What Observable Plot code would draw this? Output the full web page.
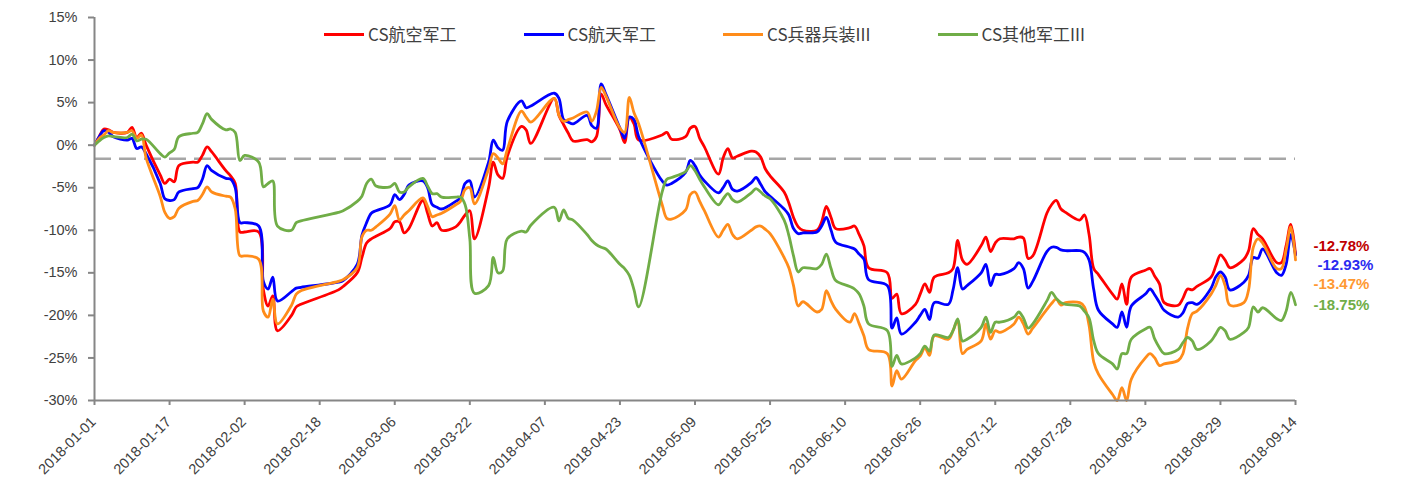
<!DOCTYPE html>
<html>
<head>
<meta charset="utf-8">
<script src="https://cdn.jsdelivr.net/npm/d3@7"></script>
<script src="https://cdn.jsdelivr.net/npm/@observablehq/plot@0.6"></script>
<style>
  html, body { margin: 0; padding: 0; background: #fff; }
  #wrap { position: relative; width: 1411px; height: 489px; }
  #legend { position: absolute; left: 324px; top: 22px; display: flex; gap: 67px;
            font-family: "Noto Sans CJK SC", "Noto Sans", sans-serif; font-size: 17px; color: #404040; line-height: 24px; }
  .item { display: flex; align-items: center; gap: 4px; white-space: nowrap; }
  .swatch { width: 40px; height: 3px; }
</style>
</head>
<body>
<div id="wrap"><div id="legend"></div></div>
<script>
// ---------------- data ----------------
const seriesNames = ["CS航空军工", "CS航天军工", "CS兵器兵装III", "CS其他军工III"];

const dates = [
  // Jan
  "2018-01-01","2018-01-02","2018-01-03","2018-01-04","2018-01-05","2018-01-08","2018-01-09","2018-01-10","2018-01-11","2018-01-12",
  "2018-01-15","2018-01-16","2018-01-17","2018-01-18","2018-01-19","2018-01-22","2018-01-23","2018-01-24","2018-01-25","2018-01-26",
  "2018-01-29","2018-01-30","2018-01-31",
  // Feb
  "2018-02-01","2018-02-02","2018-02-05","2018-02-06","2018-02-07","2018-02-08","2018-02-09","2018-02-12","2018-02-13","2018-02-14",
  "2018-02-22","2018-02-23","2018-02-26","2018-02-27","2018-02-28",
  // Mar
  "2018-03-01","2018-03-02","2018-03-05","2018-03-06","2018-03-07","2018-03-08","2018-03-09","2018-03-12","2018-03-13","2018-03-14",
  "2018-03-15","2018-03-16","2018-03-19","2018-03-20","2018-03-21","2018-03-22","2018-03-23","2018-03-26","2018-03-27","2018-03-28",
  "2018-03-29","2018-03-30",
  // Apr
  "2018-04-02","2018-04-03","2018-04-04","2018-04-09","2018-04-10","2018-04-11","2018-04-12","2018-04-13","2018-04-16","2018-04-17",
  "2018-04-18","2018-04-19","2018-04-20","2018-04-23","2018-04-24","2018-04-25","2018-04-26","2018-04-27",
  // May
  "2018-05-02","2018-05-03","2018-05-04","2018-05-07","2018-05-08","2018-05-09","2018-05-10","2018-05-11","2018-05-14","2018-05-15",
  "2018-05-16","2018-05-17","2018-05-18","2018-05-21","2018-05-22","2018-05-23","2018-05-24","2018-05-25","2018-05-28","2018-05-29",
  "2018-05-30","2018-05-31",
  // Jun
  "2018-06-01","2018-06-04","2018-06-05","2018-06-06","2018-06-07","2018-06-08","2018-06-11","2018-06-12","2018-06-13","2018-06-14",
  "2018-06-15","2018-06-19","2018-06-20","2018-06-21","2018-06-22","2018-06-25","2018-06-26","2018-06-27","2018-06-28","2018-06-29",
  // Jul
  "2018-07-02","2018-07-03","2018-07-04","2018-07-05","2018-07-06","2018-07-09","2018-07-10","2018-07-11","2018-07-12","2018-07-13",
  "2018-07-16","2018-07-17","2018-07-18","2018-07-19","2018-07-20","2018-07-23","2018-07-24","2018-07-25","2018-07-26","2018-07-27",
  "2018-07-30","2018-07-31",
  // Aug
  "2018-08-01","2018-08-02","2018-08-03","2018-08-06","2018-08-07","2018-08-08","2018-08-09","2018-08-10","2018-08-13","2018-08-14",
  "2018-08-15","2018-08-16","2018-08-17","2018-08-20","2018-08-21","2018-08-22","2018-08-23","2018-08-24","2018-08-27","2018-08-28",
  "2018-08-29","2018-08-30","2018-08-31",
  // Sep
  "2018-09-03","2018-09-04","2018-09-05","2018-09-06","2018-09-07","2018-09-10","2018-09-11","2018-09-12","2018-09-13","2018-09-14"
];

// CS航空军工 (%)
const aviation = [
  0, 1.0, 1.9, 1.8, 1.5, 1.5, 2.1, 0.9, 1.4, 0.0, -3.5, -4.5, -4.0, -4.3, -2.4, -2.0, -2.0, -1.2, -0.2, -0.8, -3.0, -3.6, -4.5,
  -10.2, -10.2, -10.2, -17.0, -18.9, -17.7, -21.8, -20.0, -19.0, -18.7, -17.0, -16.6, -15.0, -13.2, -11.5,
  -11.0, -10.7, -9.8, -9.0, -9.0, -10.3, -9.8, -6.5, -8.0, -9.5, -9.1, -10.0, -9.6, -9.0, -8.2, -7.7, -11.0, -5.0, -2.0, -3.5, -3.9, -1.3,
  2.2, 1.8, 0.2, 5.5, 3.5, 2.4, 1.4, 0.5, 0.65, 0.4, 1.0, 6.0, 4.8, 1.8, 0.3, 3.3, 2.5, 0.6,
  1.2, 1.5, 0.7, 1.0, 2.0, 2.2, 0.8, -0.2, -3.4, -1.5, -0.4, -1.5, -1.3, -0.7, -0.8, -1.4, -2.8, -3.6, -5.5, -6.8, -8.5, -9.6,
  -10.0, -10.0, -9.0, -7.2, -8.5, -9.8, -9.7, -9.5, -10.5, -11.8, -14.4, -15.0, -18.0, -17.5, -19.8, -18.7, -17.5, -16.3, -17.3, -15.5,
  -15.0, -14.5, -11.2, -13.5, -14.0, -11.8, -10.8, -12.5, -11.5, -11.0, -11.0, -10.8, -10.9, -13.3, -13.0, -8.0, -7.0, -6.5, -7.5, -7.9, -8.8, -8.2,
  -10.5, -14.5, -15.2, -17.5, -18.1, -16.3, -18.7, -15.5, -14.7, -14.5, -15.4, -16.3, -18.5, -18.8, -18.0, -16.9, -17.0, -16.6, -15.5, -14.2, -12.9, -13.5, -14.4,
  -13.4, -12.4, -9.8, -10.5, -11.0, -13.8, -13.8, -11.8, -9.3, -12.78
];

// CS航天军工 (%)
const aerospace = [
  0, 1.0, 1.7, 1.5, 1.0, 0.6, 0.8, -0.4, -0.2, -1.0, -4.5, -6.3, -6.5, -6.4, -5.5, -5.1, -5.0, -4.0, -2.4, -3.0, -3.9, -4.0, -5.0,
  -9.1, -9.1, -9.5, -16.0, -16.9, -15.5, -18.3, -17.2, -16.8, -16.7, -16.1, -15.9, -14.0, -10.6, -9.1,
  -8.0, -7.7, -7.0, -5.8, -6.4, -5.8, -4.7, -4.2, -5.0, -7.0, -7.3, -7.5, -6.6, -6.2, -4.5, -4.2, -6.1, -2.0, 0.6, -0.3, -0.6, 2.8,
  5.2, 4.4, 4.6, 6.1, 5.5, 3.0, 2.7, 2.5, 3.5, 2.3, 2.0, 7.2, 6.0, 2.0, 0.8, 3.3, 3.0, 1.0,
  -4.2, -4.7, -4.5, -3.2, -1.8, -2.4, -3.5, -4.2, -5.6, -5.0, -4.2, -5.2, -5.4, -4.4, -3.8, -4.6, -5.5, -6.0, -7.5, -8.2, -9.8, -10.4,
  -10.3, -10.2, -9.5, -8.5, -10.0, -11.4, -12.0, -12.2, -12.8, -13.4, -15.8, -16.5, -21.5, -20.3, -22.2, -20.8, -20.0, -19.3, -20.5, -18.5,
  -18.7, -17.0, -14.4, -16.9, -16.5, -15.0, -14.0, -16.5, -15.2, -15.2, -14.5, -13.8, -14.5, -16.8, -16.0, -12.5, -12.0, -12.0, -12.3, -12.4, -12.4, -12.6,
  -13.5, -17.0, -19.4, -21.0, -21.4, -19.6, -21.4, -18.9, -17.5, -16.9, -17.6, -18.5, -19.4, -20.2, -19.7, -18.6, -18.5, -18.7, -16.8, -15.5, -14.9, -15.5, -17.0,
  -16.1, -15.3, -13.2, -13.3, -12.2, -15.0, -15.3, -14.0, -10.5, -12.93
];

// CS兵器兵装III (%)
const ordnance = [
  0, 0.8, 1.2, 1.7, 1.5, 1.5, 1.7, 0.8, 1.2, -1.5, -6.0, -7.9, -8.6, -8.4, -7.4, -6.6, -6.5, -5.8, -4.9, -5.5, -6.0, -6.1, -7.5,
  -13.0, -13.0, -13.4, -19.5, -20.2, -18.1, -21.0, -18.8, -17.5, -17.1, -16.0, -15.8, -14.4, -10.8, -10.0,
  -10.0, -9.6, -8.1, -7.1, -8.8, -8.2, -7.7, -6.2, -7.2, -8.4, -8.2, -8.0, -7.0, -6.6, -5.2, -5.0, -6.9, -2.8, -1.0, -1.5, -2.2, -0.5,
  4.0, 3.3, 2.7, 5.5, 3.5, 2.8, 3.0, 3.2, 3.9, 2.8, 4.0, 6.8, 5.8, 2.0, 1.5, 5.6, 3.8, 2.5,
  -7.0, -8.6, -8.7, -7.6, -5.8, -5.5, -6.6, -7.7, -10.8, -10.0, -9.3, -10.5, -11.0, -10.0, -9.6, -9.5, -9.9, -10.4, -13.2, -14.4, -16.5, -18.9,
  -18.4, -19.6, -19.3, -17.1, -18.3, -19.3, -20.8, -19.8, -21.0, -22.4, -24.0, -24.5, -28.3, -26.5, -27.5, -25.3, -24.8, -23.8, -24.7, -22.4,
  -22.8, -21.8, -20.6, -24.5, -24.0, -23.0, -21.0, -22.8, -21.8, -22.0, -21.0, -20.2, -21.0, -22.2, -21.5, -19.3, -18.6, -18.1, -18.8, -18.5, -18.5, -19.0,
  -21.2, -25.5, -26.9, -29.3, -30.0, -28.5, -30.0, -27.5, -25.0, -24.5, -25.0, -25.9, -25.7, -25.3, -24.5, -21.5, -19.8, -19.5, -17.5, -16.5, -15.3, -16.5, -18.8,
  -18.5, -17.0, -12.0, -11.0, -11.5, -14.5, -14.5, -12.3, -9.6, -13.47
];

// CS其他军工III (%)
const otherMilitary = [
  0, 0.5, 0.9, 1.1, 1.0, 0.9, 1.3, 0.5, 0.7, 0.7, -1.0, -1.4, -0.9, -0.5, 1.0, 1.4, 1.5, 2.5, 3.7, 3.0, 1.8, 1.9, 1.5,
  -1.8, -1.2, -2.0, -4.9, -4.5, -4.2, -9.5, -10.0, -9.1, -8.9, -7.9, -7.7, -6.6, -6.0, -4.5,
  -4.0, -4.8, -4.9, -4.5, -5.5, -5.5, -4.9, -3.9, -4.8, -5.7, -5.7, -6.1, -6.1, -6.1, -7.0, -11.0, -17.4, -16.5, -13.2, -15.0, -14.8, -11.0,
  -10.1, -10.2, -9.4, -7.3, -8.9, -7.6, -8.6, -8.8, -10.5, -11.2, -11.7, -12.0, -12.2, -14.0, -14.5, -15.3, -17.0, -19.0,
  -5.5, -4.0, -3.8, -3.1, -2.4, -3.0, -4.0, -4.9, -7.0, -6.3, -5.7, -6.4, -6.7, -5.6, -5.1, -5.5, -6.0, -6.3, -8.8, -10.6, -13.0, -14.9,
  -14.4, -14.5, -14.0, -12.8, -14.5, -15.9, -16.6, -16.9, -17.5, -18.9, -21.0, -21.8, -26.0, -24.7, -25.7, -25.0, -24.5, -23.6, -24.2, -22.3,
  -22.6, -21.8, -20.4, -23.0, -22.8, -21.4, -20.2, -22.0, -20.8, -20.8, -20.2, -19.6, -20.3, -21.5, -21.0, -18.3, -17.3, -18.0, -18.5, -18.7, -18.9, -19.5,
  -20.3, -23.0, -24.5, -25.7, -26.3, -24.5, -24.5, -22.8, -21.6, -21.4, -22.8, -23.8, -24.5, -24.0, -23.2, -22.6, -23.0, -24.0, -23.0, -22.2, -21.4, -21.8, -22.8,
  -22.0, -21.4, -19.0, -19.6, -19.1, -20.4, -20.6, -19.5, -17.3, -18.75
];

const yTicks = [15, 10, 5, 0, -5, -10, -15, -20, -25, -30];
const xTickLabels = ["2018-01-01","2018-01-17","2018-02-02","2018-02-18","2018-03-06","2018-03-22","2018-04-07","2018-04-23",
  "2018-05-09","2018-05-25","2018-06-10","2018-06-26","2018-07-12","2018-07-28","2018-08-13","2018-08-29","2018-09-14"];
const referenceLevel = -1.6; // dashed horizontal reference line (%)

// ---------------- build ----------------
const lineColors = ["#FF0000", "#0000FF", "#FF8C1A", "#70AD47"];
const labelColors = ["#C00000", "#2B2BF0", "#FF9933", "#70AD47"];
const labelDy = [-8, 10, 24, 0];
const labelDx = [18, 22, 18, 18];

const seriesValues = [aviation, aerospace, ordnance, otherMilitary];
const parse = d3.utcParse("%Y-%m-%d");
const tidy = seriesNames.flatMap((name, i) =>
  dates.map((d, j) => ({date: parse(d), value: seriesValues[i][j], series: name})));
const xTicks = xTickLabels.map(parse);
const xDomain = [xTicks[0], xTicks[xTicks.length - 1]];
const lastDate = parse(dates[dates.length - 1]);

const axisColor = "#868686";
const textColor = "#404040";

const labelMarks = seriesNames.map((name, i) => {
  const v = seriesValues[i][seriesValues[i].length - 1];
  return Plot.text([{date: lastDate, value: v, label: v.toFixed(2) + "%"}], {
    x: "date", y: "value", text: "label", fill: labelColors[i],
    dx: labelDx[i], dy: labelDy[i], textAnchor: "start",
    fontWeight: "bold", fontSize: 15
  });
});

const chart = Plot.plot({
  width: 1411,
  height: 489,
  marginLeft: 94,
  marginRight: 116,
  marginTop: 17,
  marginBottom: 89,
  style: {fontFamily: "'Liberation Sans', Arial, sans-serif", fontSize: "14.5px", color: textColor, background: "#fff"},
  x: {type: "utc", domain: xDomain},
  y: {domain: [-30, 15]},
  color: {domain: seriesNames, range: lineColors},
  marks: [
    Plot.ruleY([referenceLevel], {stroke: "#A6A6A6", strokeWidth: 2.5, strokeDasharray: "17,8"}),
    Plot.line(tidy, {x: "date", y: "value", z: "series", stroke: "series", strokeWidth: 2.8, curve: "catmull-rom"}),
    Plot.axisY({ticks: yTicks, tickFormat: d => d + "%", tickSize: 6, tickPadding: 11, stroke: axisColor, strokeWidth: 2, fill: textColor, label: null}),
    Plot.axisX({ticks: xTicks, tickSize: 5, text: null, stroke: axisColor, strokeWidth: 2, label: null}),
    Plot.axisX({ticks: xTicks, tickSize: 0, tickFormat: d3.utcFormat("%Y-%m-%d"), tickRotate: -45, tickPadding: 19,
      dx: -1, fill: textColor, label: null}),
    Plot.ruleX([xDomain[0]], {stroke: axisColor, strokeWidth: 2}),
    Plot.ruleY([-30], {stroke: axisColor, strokeWidth: 2}),
    ...labelMarks
  ]
});

const wrap = document.getElementById("wrap");
wrap.insertBefore(chart, wrap.firstChild);

const legend = document.getElementById("legend");
seriesNames.forEach((name, i) => {
  const item = document.createElement("div");
  item.className = "item";
  const sw = document.createElement("span");
  sw.className = "swatch";
  sw.style.background = lineColors[i];
  const tx = document.createElement("span");
  tx.textContent = name;
  item.appendChild(sw);
  item.appendChild(tx);
  legend.appendChild(item);
});
</script>
</body>
</html>
